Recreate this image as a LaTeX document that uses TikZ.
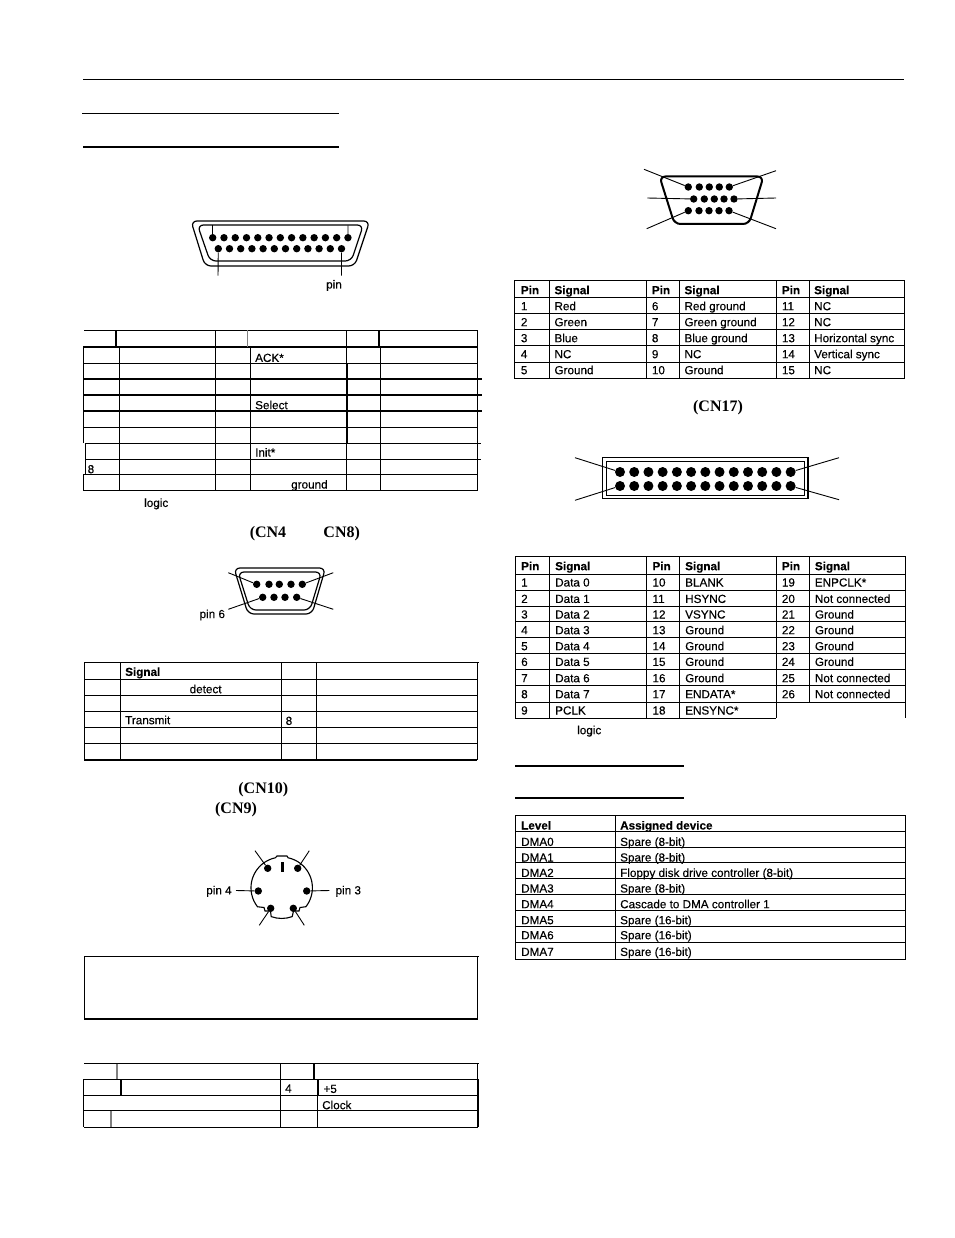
\documentclass[tikz,border=0pt]{standalone}
\usepackage{fontspec}
\setmainfont[FakeBold=0.25,BoldFeatures={FakeBold=0.25}]{Liberation Sans}
\newfontfamily\capfont{Liberation Serif}
\tikzset{
  thin rule/.style={line width=0.9pt},
  thick rule/.style={line width=1.6pt},
  shell/.style={line width=1.2pt, rounded corners=6pt},
  pinlead/.style={line width=0.9pt},
  pindot/.style={circle, fill=black, inner sep=0pt, minimum size=7.4pt},
  bigdot/.style={circle, fill=black, inner sep=0pt, minimum size=10pt},
  cell/.style={anchor=base west, yshift=-4.2pt, inner sep=0pt, font=\fontsize{11.7}{13}\selectfont},
  headcell/.style={cell, font=\fontsize{11.7}{13}\selectfont\bfseries},
  pinlabel/.style={inner sep=0pt, font=\fontsize{11.7}{13}\selectfont},
  capt/.style={inner sep=0pt, font=\fontsize{16}{18}\selectfont\capfont\bfseries}
}
\begin{document}
\begin{tikzpicture}[x=1pt, y=-1pt]
\fill[white] (0,0) rectangle (954,1238);
% page rules
\draw[line width=1pt] (83,79.3) -- (904,79.3);
\draw[line width=1pt] (82,114) -- (339,114);
\draw[line width=2pt] (83,146.7) -- (339,146.7);
\draw[thick rule] (515,765.7) -- (684,765.7);
\draw[thick rule] (515,798) -- (683.5,798);

% 25 pin connector
\draw[shell] (191,221) -- (369.7,221) -- (354.7,266) -- (205,266) -- cycle;
\draw[shell] (197.5,225) -- (363.3,225) -- (351.3,261) -- (210,261) -- cycle;
\foreach \n in {1,...,13} \node[pindot] (dba\n) at ({212.7+(\n-1)*11.27},237.7) {};
\foreach \n in {1,...,12} \node[pindot] (dbb\n) at ({218.3+(\n-1)*11.2},248.7) {};
\coordinate (dbtl) at (212.7,225.5);
\coordinate (dbtr) at (348,225.5);
\coordinate (dbbl) at (218,275.7);
\coordinate (dbbr) at (341.5,275.7);
\draw[pinlead] (dba1) -- (dbtl);
\draw[pinlead] (dba13) -- (dbtr);
\draw[pinlead] (dbb1) -- (dbbl);
\draw[pinlead] (dbb12) -- (dbbr);
\node[cell] (dbpin) at (326,284.3) {pin};

% 25 pin table
\draw[thin rule] (84,330.3) -- (477.3,330.3);
\draw[thick rule] (83,346.7) -- (477.3,346.7);
\draw[thin rule] (83,363.3) -- (477.3,363.3);
\draw[thick rule] (83,379) -- (481.5,379);
\draw[thick rule] (83,395) -- (481.5,395);
\draw[thick rule] (83,411) -- (481.5,411);
\draw[thin rule] (83,427.3) -- (477.3,427.3);
\draw[thin rule] (85,443.3) -- (481,443.3);
\draw[thin rule] (85,459.3) -- (481,459.3);
\draw[thin rule] (83,474.7) -- (477.3,474.7);
\draw[thin rule] (83,490.7) -- (477.3,490.7);
\draw[thin rule] (83.3,346.7) -- (83.3,443.3);
\draw[thin rule] (85,443.3) -- (85,474.7);
\draw[thin rule] (83.3,474.7) -- (83.3,490.7);
\draw[thick rule] (116,330.3) -- (116,346.7);
\draw[thin rule] (119.3,346.7) -- (119.3,490.7);
\draw[thin rule] (215.3,330.3) -- (215.3,490.7);
\draw[thin rule, gray] (247.7,330.3) -- (247.7,346.7);
\draw[thin rule] (250.3,346.7) -- (250.3,490.7);
\draw[thin rule] (346.7,330.3) -- (346.7,490.7);
\draw[thick rule] (346.7,363.3) -- (346.7,443.3);
\draw[thick rule] (378.7,330.3) -- (378.7,346.7);
\draw[thin rule] (380.3,346.7) -- (380.3,490.7);
\draw[thin rule] (477.3,330.3) -- (477.3,490.7);
\node[cell] (ack) at (255,357.7) {ACK*};
\node[cell] (sel) at (255,405) {Select};
\node[cell] (init) at (255,452.3) {Init*};
\node[cell] (eight) at (87.5,469) {8};
\node[cell] (gnd) at (291,484.3) {ground};
\node[cell] (logicl) at (144,502.7) {logic};
\node[capt] (cnfour) at (268,534) {(CN4};
\node[capt] (cneight) at (341.7,534) {CN8)};

% 9 pin connector
\draw[shell] (234,568) -- (325.5,568) -- (312,614) -- (248,614) -- cycle;
\draw[shell] (238,572) -- (321.5,572) -- (310,610) -- (250,610) -- cycle;
\foreach \n/\x in {1/256.7,2/269,3/279.3,4/291,5/302.3} \node[pindot] (dea\n) at (\x,584.3) {};
\foreach \n/\x in {6/262.7,7/274,8/285,9/296.7} \node[pindot] (deb\n) at (\x,597.3) {};
\coordinate (detl) at (228.3,572.7);
\coordinate (detr) at (333.3,572.7);
\coordinate (debl) at (228.3,609.3);
\coordinate (debr) at (333.3,609.3);
\draw[pinlead] (dea1) -- (detl);
\draw[pinlead] (dea5) -- (detr);
\draw[pinlead] (deb6) -- (debl);
\draw[pinlead] (deb9) -- (debr);
\node[pinlabel] (pinsix) at (212.3,615) {pin 6};

% 9 pin table
\draw[thin rule] (84.3,662.3) -- (478.5,662.3);
\foreach \y in {679.3,695.3,711.3,727.3,743.3} \draw[thin rule] (84.3,\y) -- (477.3,\y);
\draw[line width=1.2pt] (84.3,760) -- (477.3,760);
\draw[thin rule] (84.3,662.3) -- (84.3,760);
\draw[thin rule] (120.3,662.3) -- (120.3,760);
\draw[thick rule] (281.3,662.3) -- (281.3,760);
\draw[thin rule] (316.7,662.3) -- (316.7,760);
\draw[thin rule] (477.3,662.3) -- (477.3,760);
\node[headcell] (sigh) at (125,671.7) {Signal};
\node[cell] (detect) at (189.5,689) {detect};
\node[cell] (trans) at (125,720) {Transmit};
\node[cell] (eightb) at (285.5,720.7) {8};
\node[capt] (cnten) at (263.3,790) {(CN10)};
\node[capt] (cnnine) at (236,810) {(CN9)};

% mini din connector
\draw[line width=1.1pt] (264,907.5) -- (265,911) -- (270.5,911) -- (271.2,916.6) arc[start angle=250, end angle=290, radius=30.7pt] -- (293.5,911) -- (299,911) -- (300,907.5) -- (305.9,906.7) arc[start angle=-38, end angle=78, radius=30.7pt] -- (287,856) -- (277,856) -- (275.3,857.8) arc[start angle=102, end angle=218, radius=30.7pt] -- cycle;
\draw[line width=3.5pt] (282.7,862.3) -- (282.7,872.3);
\node[pindot] (dinf) at (267.7,868.3) {};
\node[pindot] (dinb) at (297.7,868.3) {};
\node[pindot] (dind) at (258.3,891) {};
\node[pindot] (dinc) at (306.7,891) {};
\node[pindot] (dine) at (270.7,908.3) {};
\node[pindot] (dina) at (293.3,908.3) {};
\coordinate (dinfl) at (255,850.7);
\coordinate (dinbl) at (309.3,850.7);
\coordinate (dindl) at (236,890.5);
\coordinate (dincl) at (329.3,890.5);
\coordinate (dinel) at (259.3,925.3);
\coordinate (dinal) at (304.3,925.3);
\draw[pinlead] (dinf) -- (dinfl);
\draw[pinlead] (dinb) -- (dinbl);
\draw[pinlead] (dind) -- (dindl);
\draw[pinlead] (dinc) -- (dincl);
\draw[pinlead] (dine) -- (dinel);
\draw[pinlead] (dina) -- (dinal);
\node[pinlabel] (pinfour) at (219,891.3) {pin 4};
\node[pinlabel] (pinthree) at (348.3,891.3) {pin 3};

% note box
\draw[thin rule] (84.3,956.3) -- (478.5,956.3);
\draw[thin rule] (84.3,956.3) -- (84.3,1018.7);
\draw[thin rule] (477.3,956.3) -- (477.3,1018.7);
\draw[thick rule] (84,1018.7) -- (478,1018.7);

% din table
\draw[thin rule] (84.3,1063.7) -- (478.5,1063.7);
\draw[thin rule] (84.3,1079.3) -- (478,1079.3);
\draw[thin rule] (84.3,1095.3) -- (478,1095.3);
\draw[thin rule] (84.3,1110.7) -- (478,1110.7);
\draw[thin rule] (84.3,1127.3) -- (478,1127.3);
\draw[thin rule] (83.7,1079.3) -- (83.7,1127.3);
\draw[thick rule, gray] (117,1063.7) -- (117,1079.3);
\draw[thick rule] (120.7,1079.3) -- (120.7,1095.3);
\draw[thick rule, gray] (110.7,1110.7) -- (110.7,1127.3);
\draw[thin rule] (280.3,1063.7) -- (280.3,1127.3);
\draw[thick rule] (313.7,1063.7) -- (313.7,1079.3);
\draw[thick rule] (318,1079.3) -- (318,1095.3);
\draw[thin rule] (317.7,1095.3) -- (317.7,1127.3);
\draw[thin rule] (477.3,1063.7) -- (477.3,1079.3);
\draw[line width=1.2pt] (478,1079.3) -- (478,1127.3);
\node[cell] (four) at (285,1088.3) {4};
\node[cell] (five) at (323.3,1088.7) {+5};
\node[cell] (clock) at (322,1105) {Clock};

% 15 pin connector
\draw[shell, line width=2pt] (659.5,176.5) -- (763.5,176.5) -- (749,224) -- (674.5,224) -- cycle;
\foreach \n/\x in {1/688.3,2/699.3,3/709.3,4/719.3,5/729.3} \node[pindot] (vgaa\n) at (\x,187) {};
\foreach \n/\x in {6/693.7,7/704.3,8/714.3,9/724,10/734} \node[pindot] (vgab\n) at (\x,199) {};
\foreach \n/\x in {11/688.3,12/699,13/709,14/719,15/729} \node[pindot] (vgac\n) at (\x,210.7) {};
\coordinate (vgatl) at (644,169.3);
\coordinate (vgatr) at (776,170.7);
\coordinate (vgaml) at (647.3,198);
\coordinate (vgamr) at (776,198);
\coordinate (vgabl) at (646.7,228.7);
\coordinate (vgabr) at (776,228.7);
\draw[pinlead] (vgaa1) -- (vgatl);
\draw[pinlead] (vgaa5) -- (vgatr);
\draw[pinlead] (vgab6) -- (vgaml);
\draw[pinlead] (vgab10) -- (vgamr);
\draw[pinlead] (vgac11) -- (vgabl);
\draw[pinlead] (vgac15) -- (vgabr);

% 15 pin table
\foreach \y in {280.7,297.7,313.3,329.3,345.3,362,378.3} \draw[thin rule] (514,\y) -- (904.7,\y);
\foreach \x in {514,549,646,679.3,776,809.3,904.7} \draw[thin rule] (\x,280.7) -- (\x,378.3);
\foreach \c/\x/\y in {a/520.7/Pin,b/554.3/Signal,c/651.7/Pin,d/684.3/Signal,e/781.7/Pin,f/814/Signal} \node[headcell] (vgah\c) at (\x,290) {\y};
\foreach \y/\pa/\sa/\pb/\sb/\pc/\sc in {306/1/Red/6/Red ground/11/NC,
    322/2/Green/7/Green ground/12/NC,
    338/3/Blue/8/Blue ground/13/Horizontal sync,
    354/4/NC/9/NC/14/Vertical sync,
    370/5/Ground/10/Ground/15/NC}{
  \node[cell] (vgap\pa) at (520.7,\y) {\pa};
  \node[cell] (vgas\pa) at (554.3,\y) {\sa};
  \node[cell] (vgap\pb) at (651.7,\y) {\pb};
  \node[cell] (vgas\pb) at (684.3,\y) {\sb};
  \node[cell] (vgap\pc) at (781.7,\y) {\pc};
  \node[cell] (vgas\pc) at (814,\y) {\sc};
}

% 26 pin header
\node[capt] (cnseventeen) at (718,407.7) {(CN17)};
\draw[line width=1.5pt] (602.7,457.7) rectangle (808,498.3);
\draw[line width=0.9pt] (606,461.7) rectangle (804.7,495);
\foreach \n in {1,...,13} \node[bigdot] (hdra\n) at ({620+(\n-1)*14.22},472) {};
\foreach \n in {1,...,13} \node[bigdot] (hdrb\n) at ({620+(\n-1)*14.22},486) {};
\coordinate (hdrtl) at (575,457.7);
\coordinate (hdrtr) at (839,457.7);
\coordinate (hdrbl) at (575,500.3);
\coordinate (hdrbr) at (839,499.7);
\draw[pinlead] (hdra1) -- (hdrtl);
\draw[pinlead] (hdra13) -- (hdrtr);
\draw[pinlead] (hdrb1) -- (hdrbl);
\draw[pinlead] (hdrb13) -- (hdrbr);

% 26 pin table
\foreach \y in {556.7,574,590.3,606,621.7,637.7,653.7,669.7,685.7,702} \draw[thin rule] (515,\y) -- (905.7,\y);
\draw[thin rule] (515,718) -- (776.3,718);
\foreach \x in {515,549.7,646.7,679.7,776.3} \draw[thin rule] (\x,556.7) -- (\x,718);
\draw[thin rule] (809.3,556.7) -- (809.3,702);
\draw[thin rule] (905.7,556.7) -- (905.7,718);
\foreach \c/\x/\y in {a/521/Pin,b/555/Signal,c/652.3/Pin,d/685/Signal,e/781.7/Pin,f/814.7/Signal} \node[headcell] (hdrh\c) at (\x,566) {\y};
\foreach \y/\pa/\sa/\pb/\sb/\pc/\sc in {582.3/1/Data 0/10/BLANK/19/ENPCLK*,
    598.7/2/Data 1/11/HSYNC/20/Not connected,
    614.3/3/Data 2/12/VSYNC/21/Ground,
    630/4/Data 3/13/Ground/22/Ground,
    646/5/Data 4/14/Ground/23/Ground,
    661.7/6/Data 5/15/Ground/24/Ground,
    678/7/Data 6/16/Ground/25/Not connected,
    694/8/Data 7/17/ENDATA*/26/Not connected}{
  \node[cell] (hdrp\pa) at (521,\y) {\pa};
  \node[cell] (hdrs\pa) at (555,\y) {\sa};
  \node[cell] (hdrp\pb) at (652.3,\y) {\pb};
  \node[cell] (hdrs\pb) at (685,\y) {\sb};
  \node[cell] (hdrp\pc) at (781.7,\y) {\pc};
  \node[cell] (hdrs\pc) at (814.7,\y) {\sc};
}
\node[cell] (hdrpnine) at (521,710.3) {9};
\node[cell] (hdrsnine) at (555,710.3) {PCLK};
\node[cell] (hdrpeighteen) at (652.3,710.3) {18};
\node[cell] (hdrseighteen) at (685,710.3) {ENSYNC*};
\node[cell] (logicr) at (577,730) {logic};

% dma table
\foreach \y in {815.7,831.3,847.3,862.7,878.3,894.7,910.7,926.7,942.3,959} \draw[thin rule] (515,\y) -- (905.7,\y);
\foreach \x in {515,615,905.7} \draw[thin rule] (\x,815.7) -- (\x,959);
\node[headcell] (dmalevel) at (521,825.3) {Level};
\node[headcell] (dmadev) at (620,825.3) {Assigned device};
\foreach \y/\l/\d in {841.7/0/Spare (8-bit),
    857.3/1/Spare (8-bit),
    872.7/2/Floppy disk drive controller (8-bit),
    888.3/3/Spare (8-bit),
    904/4/Cascade to DMA controller 1,
    920/5/Spare (16-bit),
    935/6/Spare (16-bit),
    951.7/7/Spare (16-bit)}{
  \node[cell] (dmal\l) at (521,\y) {DMA\l};
  \node[cell] (dmad\l) at (620,\y) {\d};
}
\end{tikzpicture}
\end{document}
